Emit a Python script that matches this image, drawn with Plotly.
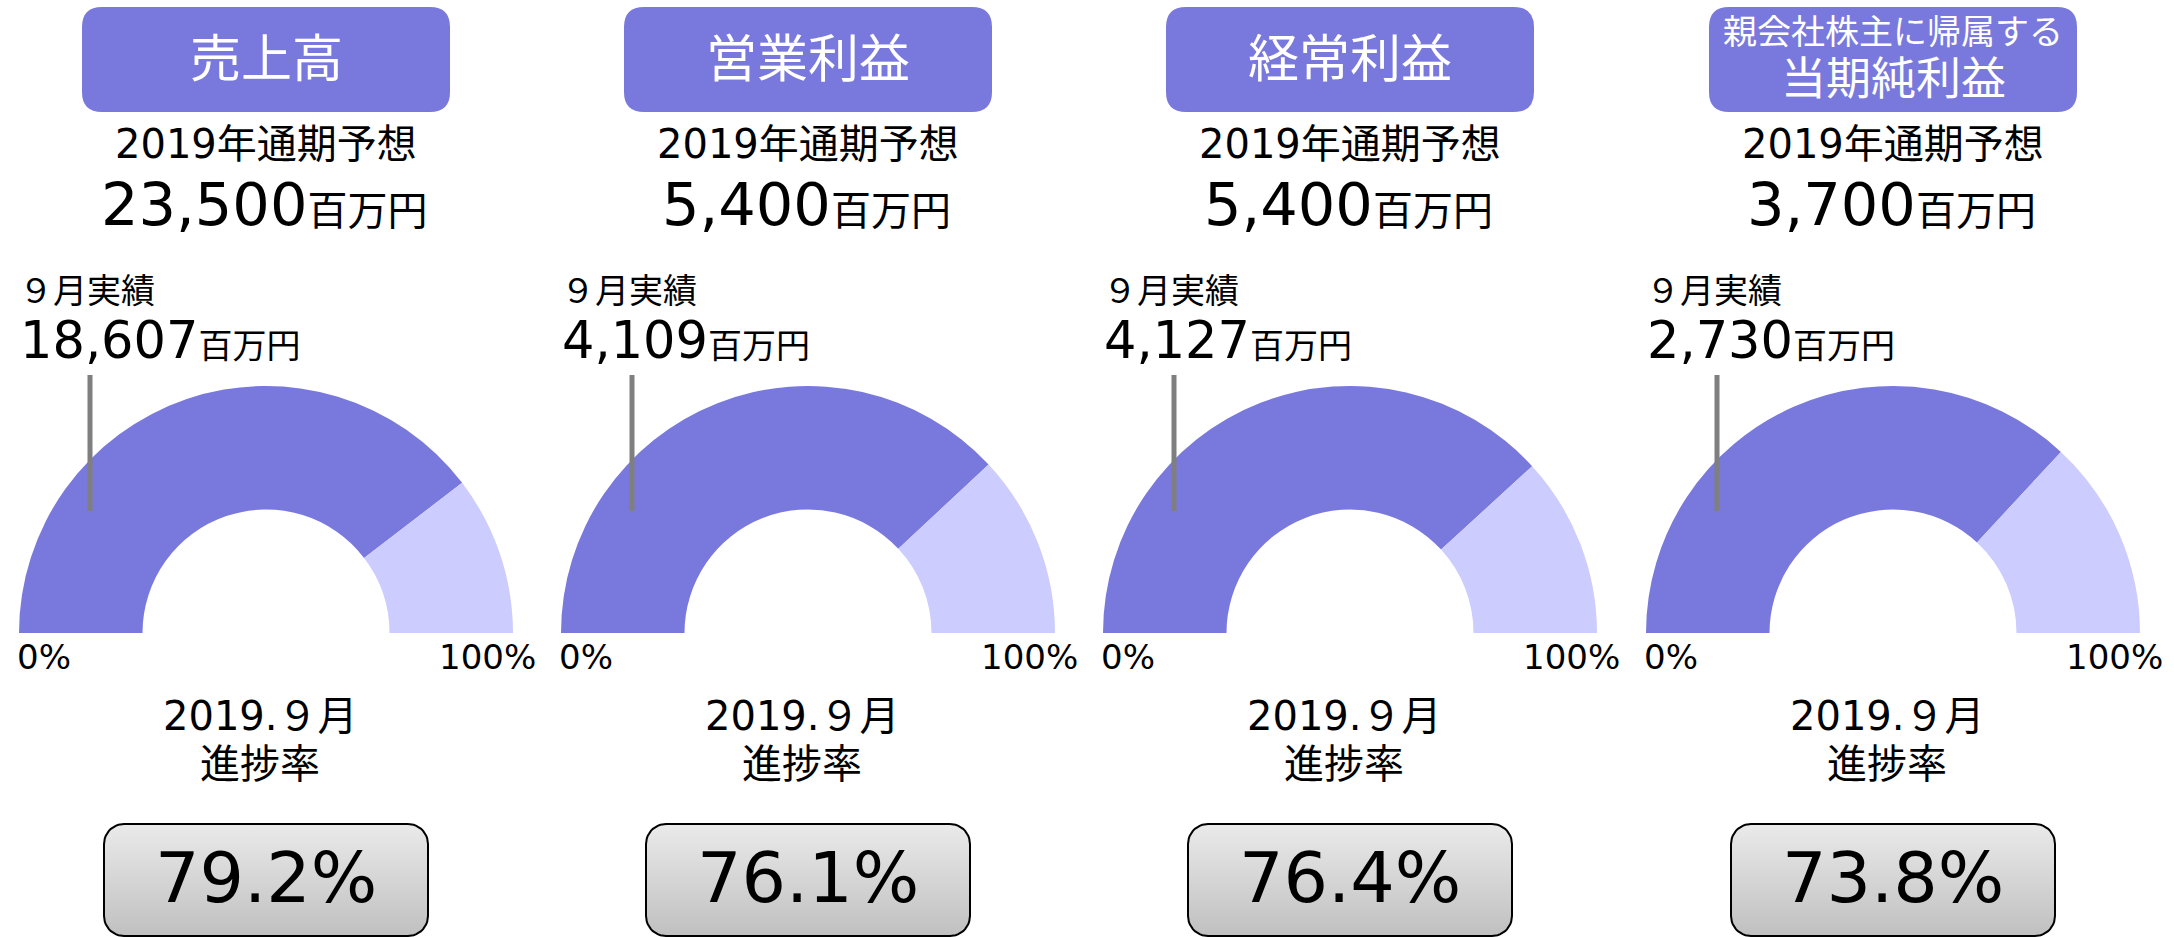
import numpy as np
import plotly.graph_objects as go

# values
titles = ["売上高", "営業利益", "経常利益", "親会社株主に帰属する\n当期純利益"]
forecast = [23500, 5400, 5400, 3700]      # 2019年通期予想（百万円）
actual_sep = [18607, 4109, 4127, 2730]    # ９月実績（百万円）
progress = [79.2, 76.1, 76.4, 73.8]       # 進捗率（%）

W, H = 2174, 937
CX = [266, 808, 1350, 1893]   # panel centres in px
CY, R = 633, 247              # gauge baseline / outer radius
PURPLE = "#7979DD"
LIGHT = "#CCCCFF"
FONT = "DejaVu Sans, Noto Sans CJK JP, sans-serif"


def rr_path(x0, y0, x1, y1, r):
    return (f"M{x0+r},{y0} L{x1-r},{y0} Q{x1},{y0} {x1},{y0+r} L{x1},{y1-r} "
            f"Q{x1},{y1} {x1-r},{y1} L{x0+r},{y1} Q{x0},{y1} {x0},{y1-r} "
            f"L{x0},{y0+r} Q{x0},{y0} {x0+r},{y0} Z")


def rr_points(x0, y0, x1, y1, r, n=12):
    xs, ys = [], []
    for cx, cy, a0 in [(x1 - r, y0 + r, -90), (x1 - r, y1 - r, 0),
                       (x0 + r, y1 - r, 90), (x0 + r, y0 + r, 180)]:
        t = np.radians(np.linspace(a0, a0 + 90, n))
        xs += list(cx + r * np.cos(t))
        ys += list(cy + r * np.sin(t))
    return xs + [xs[0]], ys + [ys[0]]


fig = go.Figure()
shapes, annots = [], []


def note(text, x, y, size, color="black", xanchor="center"):
    annots.append(dict(text=text, x=x, y=y, xref="x", yref="y", showarrow=False,
                       xanchor=xanchor, yanchor="middle",
                       font=dict(family=FONT, size=size, color=color)))


for i, cx in enumerate(CX):
    # gauge: half donut, bottom half transparent
    fig.add_trace(go.Pie(
        values=[progress[i], 100 - progress[i], 100],
        marker=dict(colors=[PURPLE, LIGHT, "rgba(0,0,0,0)"], line=dict(width=0)),
        hole=0.5, sort=False, direction="clockwise", rotation=270,
        textinfo="none", hoverinfo="skip", showlegend=False,
        domain=dict(x=[(cx - R) / W, (cx + R) / W],
                    y=[1 - (CY + R) / H, 1 - (CY - R) / H]),
    ))

    # title box
    shapes.append(dict(type="path", path=rr_path(cx - 184, 7, cx + 184, 112, 20),
                       xref="x", yref="y", fillcolor=PURPLE, line=dict(width=0),
                       layer="below"))
    if "\n" in titles[i]:
        top, bottom = titles[i].split("\n")
        note(top, cx, 32, 34, "white")
        note(bottom, cx, 79, 45, "white")
    else:
        note(titles[i], cx, 59, 51, "white")

    note("2019年通期予想", cx, 144, 40)
    note(f"{forecast[i]:,}<span style='font-size:40px'>百万円</span>", cx - 2, 204, 59)

    note("９月実績", cx - 249, 291, 34, xanchor="left")
    note(f"{actual_sep[i]:,}<span style='font-size:34px'>百万円</span>",
         cx - 248, 340, 51, xanchor="left")

    shapes.append(dict(type="line", x0=cx - 176, x1=cx - 176, y0=375, y1=511,
                       xref="x", yref="y", line=dict(color="#7F7F7F", width=5),
                       layer="above"))

    note("0%", cx - 251, 657, 34, xanchor="left")
    note("100%", cx + 272, 657, 34, xanchor="right")

    note("2019.９月", cx - 6, 716, 40)
    note("進捗率", cx - 6, 764, 40)

    bx, by = rr_points(cx - 162, 824, cx + 162, 936, 20)
    fig.add_trace(go.Scatter(
        x=bx, y=by, mode="lines", fill="toself",
        fillgradient=dict(type="vertical", start=824, stop=936,
                          colorscale=[[0, "#EAEAEA"], [1, "#C0C0C0"]]),
        line=dict(color="black", width=2), hoverinfo="skip", showlegend=False,
    ))
    note(f"{progress[i]:.1f}%", cx, 878, 70)

fig.update_layout(
    width=W, height=H,
    margin=dict(l=0, r=0, t=0, b=0, pad=0),
    paper_bgcolor="white", plot_bgcolor="white",
    xaxis=dict(range=[0, W], visible=False, fixedrange=True),
    yaxis=dict(range=[H, 0], visible=False, fixedrange=True),
    shapes=shapes, annotations=annots,
)

fig.write_html("out.html", config={"displayModeBar": False},
               post_script="document.body.style.margin='0';document.body.style.overflow='hidden';")
